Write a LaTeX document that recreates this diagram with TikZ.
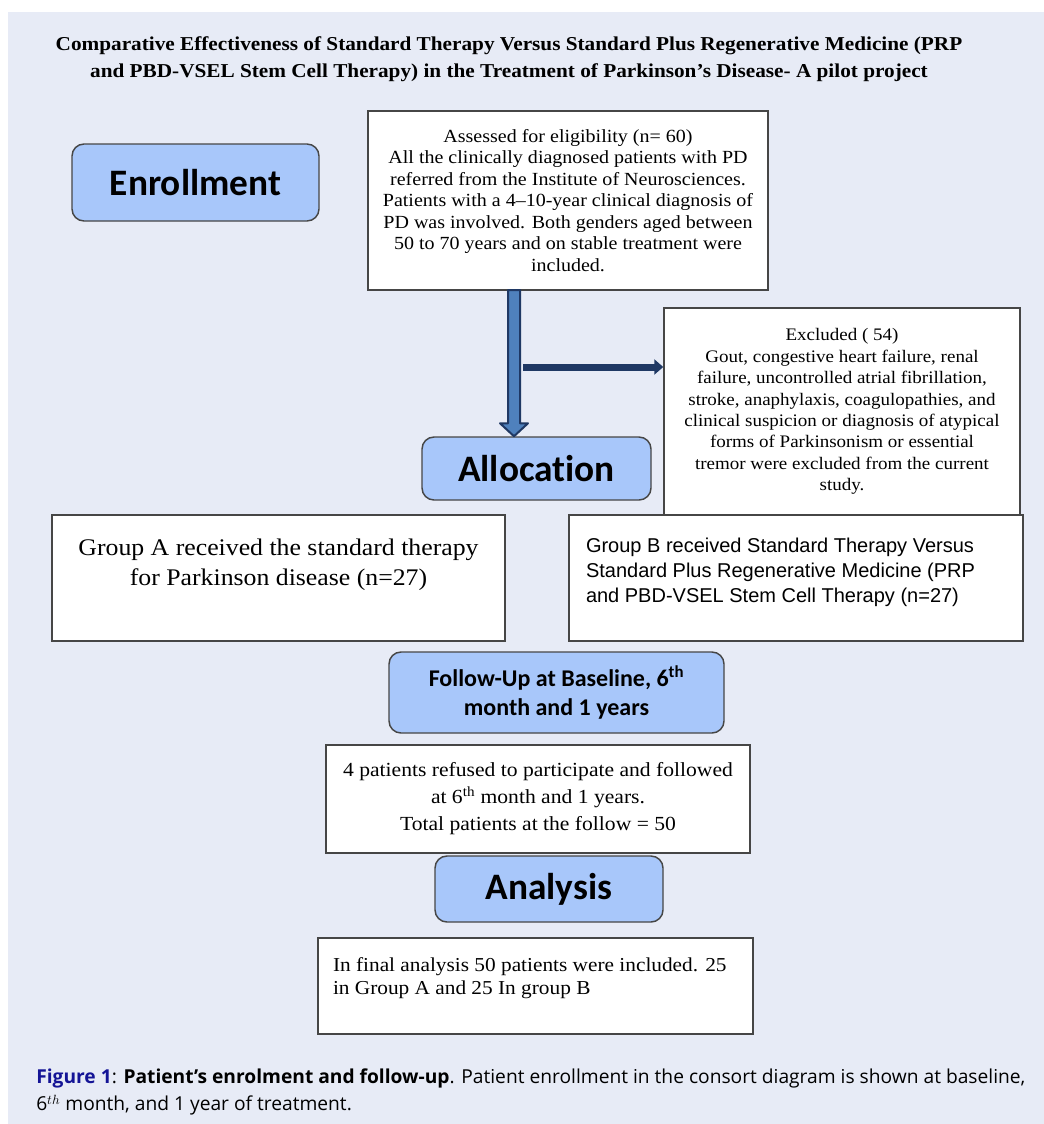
\documentclass[tikz,border=0pt]{standalone}
\usepackage{fontspec}
\usetikzlibrary{arrows.meta,calc}
\newfontfamily\cam{Liberation Serif}[FakeStretch=1.08]
\newfontfamily\carlito{Carlito}[Ligatures=NoCommon]
\newfontfamily\arialf{Liberation Sans}
\newfontfamily\capf{Open Sans}
\definecolor{bgc}{RGB}{231,235,246}
\definecolor{boxblue}{RGB}{168,199,250}
\definecolor{bordergray}{RGB}{70,70,70}
\definecolor{navyarrow}{RGB}{31,56,100}
\definecolor{steelarrow}{RGB}{79,129,189}
\definecolor{capblue}{RGB}{20,20,150}
\tikzset{
  stage/.style={draw=bordergray, line width=1.1pt, fill=boxblue, rounded corners=9pt,
    inner sep=0pt, align=center, font=\carlito\bfseries\fontsize{28}{30}\selectfont},
  info/.style={draw=bordergray, line width=1.1pt, fill=white, inner sep=0pt, align=center},
  infotop/.style={draw=bordergray, line width=1.1pt, fill=white, inner sep=0pt},
}
\begin{document}
\begin{tikzpicture}[x=0.75pt,y=-0.75pt]
\useasboundingbox (0,0) rectangle (1044,1124);
\fill[bgc] (8,12) rectangle (1044,1124);

\node[font=\cam\bfseries\fontsize{14.75}{19.8}\selectfont, align=center, inner sep=0pt] (title) at (509,59)
  {Comparative Effectiveness of Standard Therapy Versus Standard Plus Regenerative Medicine (PRP\\
   and PBD-VSEL Stem Cell Therapy) in the Treatment of Parkinson’s Disease- A pilot project};

\node[stage, minimum width=185.25pt, minimum height=57.75pt] (enr) at (195.5,182.5) {Enrollment};

\node[info, minimum width=300pt, minimum height=134.25pt, font=\cam\fontsize{13.9}{16.1}\selectfont] (assess) at (568,200.5)
  {Assessed for eligibility (n= 60)\\
   All the clinically diagnosed patients with PD\\
   referred from the Institute of Neurosciences.\\
   Patients with a 4–10-year clinical diagnosis of\\
   PD was involved. Both genders aged between\\
   50 to 70 years and on stable treatment were\\
   included.};

\node[info, minimum width=267pt, minimum height=155.25pt, font=\cam\fontsize{13.2}{16.05}\selectfont] (excl) at (842,411.5)
  {Excluded ( 54)\\
   Gout, congestive heart failure, renal\\
   failure, uncontrolled atrial fibrillation,\\
   stroke, anaphylaxis, coagulopathies, and\\
   clinical suspicion or diagnosis of atypical\\
   forms of Parkinsonism or essential\\
   tremor were excluded from the current\\
   study.};

\node[stage, minimum width=171.75pt, minimum height=47.25pt] (alloc) at (536.5,468.5) {Allocation};

% thick vertical arrow
\coordinate (vtop) at (514,290);
\coordinate (vtip) at (vtop |- alloc.north);
\draw[draw=navyarrow, line width=1.5pt, fill=steelarrow, line join=round]
  ($(vtop)+(-6,0)$) -- ($(vtip)+(-6,-13)$) -- ($(vtip)+(-14,-13)$) -- (vtip)
  -- ($(vtip)+(14,-13)$) -- ($(vtip)+(6,-13)$) -- ($(vtop)+(6,0)$) -- cycle;

% horizontal arrow to excluded
\coordinate (hstart) at (523,367);
\draw[navyarrow, line width=5.25pt, -{Triangle[width=11.25pt,length=6.75pt]}] (hstart) -- (hstart -| excl.west);

\node[infotop, font=\cam\fontsize{17.9}{22.5}\selectfont] (gA) at (278.5,578)
  {\parbox[c][94.5pt][t]{339.75pt}{\vspace*{14.25pt}\centering\strut Group A received the standard therapy\\
   for Parkinson disease (n=27)}};

\node[infotop, font=\arialf\fontsize{15}{19.1}\selectfont] (gB) at (796,578)
  {\parbox[c][94.5pt][t]{340.5pt}{\vspace*{14.4pt}\raggedright\leftskip=12.75pt\strut Group B received Standard Therapy Versus\\
   Standard Plus Regenerative Medicine (PRP\\
   and PBD-VSEL Stem Cell Therapy (n=27)\par}};

\node[stage, minimum width=251.25pt, minimum height=60.75pt, font=\carlito\bfseries\fontsize{18}{21.75}\selectfont] (fu) at (556.5,692.5)
  {Follow-Up at Baseline, 6\textsuperscript{th}\\month and 1 years};

\node[info, minimum width=318pt, minimum height=81pt, font=\cam\fontsize{15}{20.25}\selectfont] (pat) at (538,799)
  {4 patients refused to participate and followed\\
   at 6\textsuperscript{th} month and 1 years.\\
   Total patients at the follow = 50};

\node[stage, minimum width=171pt, minimum height=49.5pt] (ana) at (549,889) {Analysis};

\node[infotop, font=\cam\fontsize{14.8}{17.25}\selectfont] (fin) at (535.5,986)
  {\parbox[c][72pt][t]{326.25pt}{\vspace*{13.4pt}\raggedright\leftskip=11.25pt\strut In final analysis 50 patients were included. 25\\
   in Group A and 25 In group B\par}};

\node[anchor=north west, align=left, inner sep=0pt, font=\capf\fontsize{14.4}{20.25}\selectfont] (cap) at (36,1069)
  {\textcolor{capblue}{\bfseries Figure 1}: {\bfseries Patient’s enrolment and follow-up}. Patient enrollment in the consort diagram is shown at baseline,\\
   6$^{th}$ month, and 1 year of treatment.};
\end{tikzpicture}
\end{document}
